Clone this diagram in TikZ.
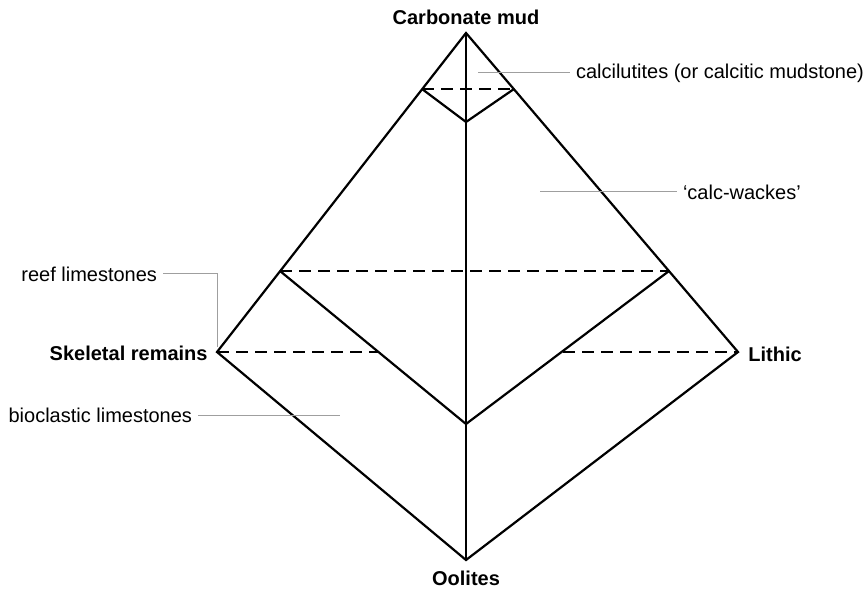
\documentclass[tikz,border=0pt]{standalone}
\usepackage{fontspec}
\setmainfont{Liberation Sans}
\usepackage{tikz}
\usetikzlibrary{positioning}

\begin{document}
\begin{tikzpicture}[x=0.5pt, y=0.5pt, font=\fontsize{10}{12}\selectfont,
      edge/.style={line width=1.1pt},
      split/.style={line width=1.1pt, dash pattern=on 6pt off 3.5pt},
      lead/.style={gray!75, line width=0.5pt},
      corner/.style={font=\fontsize{10}{12}\selectfont\bfseries, inner sep=0pt},
      tag/.style={inner sep=0pt, outer sep=3pt, anchor=west}]
    \useasboundingbox (0,0) rectangle (865,589);
    % corners of the diamond
    \coordinate (T) at (466,556);
    \coordinate (L) at (217,237);
    \coordinate (R) at (738,237);
    \coordinate (B) at (466,29);
    % dividing points
    \coordinate (t1) at (422,500);
    \coordinate (t2) at (514,500);
    \coordinate (tc) at (466,467);
    \coordinate (m1) at (280,318);
    \coordinate (m2) at (669,318);
    \coordinate (mc) at (466,165);
    \coordinate (s1) at (378,237);
    \coordinate (s2) at (563,237);
    \draw[edge] (T) -- (L) -- (B) -- (R) -- cycle;
    \draw[edge] (T) -- (B);
    \draw[edge] (t1) -- (tc) -- (t2);
    \draw[edge] (m1) -- (mc) -- (m2);
    \draw[split] (t1) -- (t2);
    \draw[split] (m1) -- (m2);
    \draw[split] (L) -- (s1);
    \draw[split] (s2) -- (R);
    % end members
    \node[corner, anchor=base] (mud) at (466,564) {Carbonate mud};
    \node[corner, anchor=base] (ool) at (466,4) {Oolites};
    \node[corner, anchor=base east] (skel) at (208,229) {Skeletal remains};
    \node[corner, anchor=base west] (lith) at (748,228) {Lithic};
    % fields
    \coordinate (p1) at (478,516);
    \node[tag] (calci) at (570,516) {calcilutites (or calcitic mudstone)};
    \draw[lead] (p1) -- (calci);
    \coordinate (p2) at (540,397);
    \node[tag] (wacke) at (677,397) {‘calc-wackes’};
    \draw[lead] (p2) -- (wacke);
    \coordinate (p3) at (217,242);
    \node[tag, anchor=east] (reef) at (163,315) {reef limestones};
    \draw[lead] (reef) -| (p3);
    \coordinate (p4) at (340,174);
    \node[tag, anchor=east] (bio) at (198,174) {bioclastic limestones};
    \draw[lead] (bio) -- (p4);
\end{tikzpicture}
\end{document}
